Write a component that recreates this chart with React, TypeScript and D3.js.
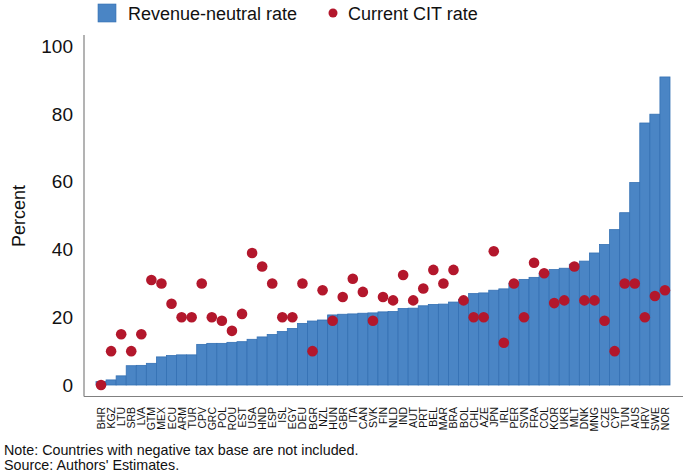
import * as d3 from "d3";
import React from "react";

const countries = [
	"BHR", "KGZ", "LTU", "SRB", "LVA", "GTM", "MEX", "ECU", "ARM", "TUR",
	"CPV", "GRC", "POL", "ROU", "EST", "USA", "HND", "ESP", "ISL", "EGY",
	"DEU", "BGR", "NZL", "HUN", "GBR", "ITA", "CAN", "SVK", "FIN", "NLD",
	"IND", "AUT", "PRT", "BEL", "MAR", "BRA", "BOL", "CHL", "AZE", "JPN",
	"IRL", "PER", "SVN", "FRA", "COL", "KOR", "UKR", "MLT", "DNK", "MNG",
	"CZE", "CYP", "TUN", "AUS", "HRV", "SWE", "NOR",
];

const revenueNeutral = [
	1.0, 1.5, 2.7, 5.7, 5.8, 6.4, 8.3, 8.7, 8.9, 8.9,
	12.0, 12.3, 12.3, 12.6, 12.8, 13.5, 14.2, 14.9, 15.8, 16.7,
	18.2, 18.9, 19.2, 20.7, 20.9, 21.0, 21.2, 21.3, 21.6, 21.7,
	22.6, 22.7, 23.4, 23.8, 23.9, 24.5, 25.3, 27.0, 27.2, 28.0,
	28.4, 30.1, 31.2, 31.8, 33.1, 34.1, 34.5, 35.7, 36.6, 39.0,
	41.5, 45.9, 50.9, 59.8, 77.4, 80.0, 91.0,
];

const currentCIT = [
	0, 10, 15, 10, 15, 31, 30, 24, 20, 20,
	30, 20, 19, 16, 21, 39, 35, 30, 20, 20,
	30, 10, 28, 19, 26, 31.4, 27.5, 19, 26, 25,
	32.5, 25, 28.5, 34, 30, 34, 25, 20, 20, 39.5,
	12.5, 30, 20, 36.1, 33, 24.2, 25, 35, 25, 25,
	19, 10, 30, 30, 20, 26.3, 28,
];

const yTicks = [0, 20, 40, 60, 80, 100];

const BLUE = "#4a85c5";
const BLUE_EDGE = "#3470b3";
const RED = "#b3172c";
const FONT = "Arial, 'Liberation Sans', sans-serif";

export default function App() {
	const width = 685;
	const height = 473;

	const x = d3.scaleBand<string>().domain(countries).range([96, 670]).padding(0);
	const y = d3.scaleLinear().domain([0, 100]).range([385, 46.5]);

	return (
		<svg
			width={width}
			height={height}
			style={{ position: "absolute", left: 0, top: 0, background: "#fff" }}
			fontFamily={FONT}
		>
			{/* legend */}
			<rect x={98} y={4} width={18} height={18} fill={BLUE} stroke={BLUE_EDGE} strokeWidth={0.6} />
			<text x={128} y={20} fontSize={18} fill="#111">Revenue-neutral rate</text>
			<circle cx={333} cy={13} r={4.5} fill={RED} />
			<text x={348} y={20} fontSize={18} fill="#111">Current CIT rate</text>

			{/* axes */}
			<line x1={84} x2={84} y1={35} y2={396.5} stroke="#808080" strokeWidth={1.2} />
			<line x1={84} x2={683} y1={396.5} y2={396.5} stroke="#808080" strokeWidth={1.2} />

			{yTicks.map((t) => (
				<text
					key={t}
					x={73}
					y={y(t)}
					textAnchor="end"
					dominantBaseline="central"
					fontSize={19}
					fill="#111"
				>
					{t}
				</text>
			))}
			<text
				transform={`translate(19,${216}) rotate(-90)`}
				textAnchor="middle"
				dominantBaseline="central"
				fontSize={18}
				fill="#111"
			>
				Percent
			</text>

			{/* bars */}
			{countries.map((c, i) => (
				<rect
					key={c}
					x={x(c)!}
					y={y(revenueNeutral[i])}
					width={x.bandwidth()}
					height={y(0) - y(revenueNeutral[i])}
					fill={BLUE}
					stroke={BLUE_EDGE}
					strokeWidth={0.8}
				/>
			))}

			{/* dots */}
			{countries.map((c, i) => (
				<circle
					key={c}
					cx={x(c)! + x.bandwidth() / 2}
					cy={y(currentCIT[i])}
					r={5.3}
					fill={RED}
				/>
			))}

			{/* x labels */}
			{countries.map((c) => (
				<text
					key={c}
					transform={`translate(${x(c)! + x.bandwidth() / 2},407) rotate(-90)`}
					textAnchor="end"
					dominantBaseline="central"
					fontSize={10.5}
					fill="#111"
				>
					{c}
				</text>
			))}

			{/* notes */}
			<text x={4} y={454.5} fontSize={14.3} fill="#111">
				Note: Countries with negative tax base are not included.
			</text>
			<text x={4} y={469.5} fontSize={14.3} fill="#111">
				Source: Authors' Estimates.
			</text>
		</svg>
	);
}
